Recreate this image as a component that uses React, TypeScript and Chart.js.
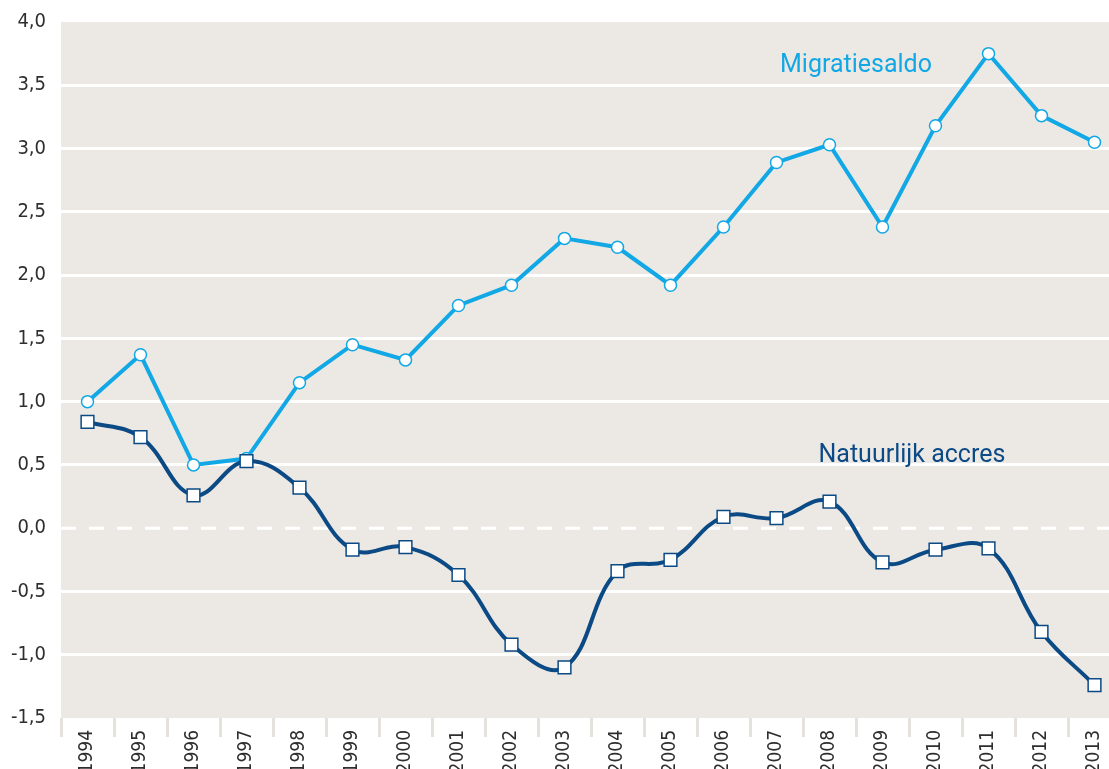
import React, { useEffect, useRef } from 'react';
import { Chart, registerables } from 'chart.js';

Chart.register(...registerables);

const years = ['1994', '1995', '1996', '1997', '1998', '1999', '2000', '2001', '2002', '2003', '2004', '2005', '2006', '2007', '2008', '2009', '2010', '2011', '2012', '2013'];
const migratiesaldo = [1.0, 1.37, 0.5, 0.55, 1.15, 1.45, 1.33, 1.76, 1.92, 2.29, 2.22, 1.92, 2.38, 2.89, 3.03, 2.38, 3.18, 3.75, 3.26, 3.05];
const natuurlijkAccres = [0.84, 0.72, 0.26, 0.53, 0.32, -0.17, -0.15, -0.37, -0.92, -1.1, -0.34, -0.25, 0.09, 0.08, 0.21, -0.27, -0.17, -0.16, -0.82, -1.24];
const yMin = -1.5;
const yMax = 4.0;
const yStep = 0.5;

const LIGHT = '#12a8e5';
const DARK = '#0b4a84';
const TICK_FONT = '"DejaVu Sans Condensed", "Liberation Sans Narrow", sans-serif';
const W = 1121;
const H = 769;

const decorPlugin = {
  id: 'decor',
  beforeDraw(chart: any) {
    const { ctx, chartArea } = chart;
    ctx.save();
    ctx.fillStyle = '#ece9e5';
    ctx.fillRect(chartArea.left, chartArea.top, chartArea.right - chartArea.left, chartArea.bottom - chartArea.top);
    ctx.restore();
  },
  beforeDatasetsDraw(chart: any) {
    const { ctx, chartArea, scales } = chart;
    const y0 = scales.y.getPixelForValue(0);
    ctx.save();
    ctx.strokeStyle = '#ffffff';
    ctx.lineWidth = 3;
    ctx.setLineDash([15, 13]);
    ctx.beginPath();
    ctx.moveTo(chartArea.left, y0);
    ctx.lineTo(chartArea.right, y0);
    ctx.stroke();
    ctx.restore();
  },
  afterDatasetsDraw(chart: any) {
    const { ctx, scales } = chart;
    const x = scales.x.getPixelForValue(13);
    ctx.save();
    ctx.font = '25px Roboto, sans-serif';
    ctx.textAlign = 'left';
    ctx.textBaseline = 'alphabetic';
    ctx.fillStyle = LIGHT;
    ctx.fillText('Migratiesaldo', x + 3.5, scales.y.getPixelForValue(3.605));
    ctx.fillStyle = DARK;
    ctx.fillText('Natuurlijk accres', x + 42, scales.y.getPixelForValue(0.522));
    ctx.restore();
  },
};

export default function App() {
  const ref = useRef<HTMLCanvasElement | null>(null);
  useEffect(() => {
    if (!ref.current) return;
    const chart = new Chart(ref.current, {
      type: 'line',
      data: {
        labels: years,
        datasets: [
          {
            label: 'Natuurlijk accres',
            data: natuurlijkAccres,
            borderColor: DARK,
            borderWidth: 4,
            tension: 0.4,
            pointStyle: 'rect',
            pointRadius: 9,
            pointBackgroundColor: '#ffffff',
            pointBorderColor: DARK,
            pointBorderWidth: 1.5,
          },
          {
            label: 'Migratiesaldo',
            data: migratiesaldo,
            borderColor: LIGHT,
            borderWidth: 4,
            tension: 0,
            pointStyle: 'circle',
            pointRadius: 6,
            pointBackgroundColor: '#ffffff',
            pointBorderColor: LIGHT,
            pointBorderWidth: 1.5,
          },
        ],
      },
      options: {
        animation: false,
        responsive: false,
        maintainAspectRatio: false,
        devicePixelRatio: 1,
        layout: { autoPadding: false, padding: { top: 22, left: 0, right: 0, bottom: 0 } },
        plugins: { legend: { display: false }, tooltip: { enabled: false }, title: { display: false } },
        scales: {
          x: {
            offset: true,
            border: { display: false },
            grid: {
              offset: true,
              drawOnChartArea: false,
              drawTicks: true,
              tickLength: 19,
              tickWidth: 3,
              tickColor: '#e5e2dd',
              color: '#e5e2dd',
            },
            ticks: {
              autoSkip: false,
              minRotation: 90,
              maxRotation: 90,
              padding: -7,
              color: '#2e2e2e',
              font: { family: TICK_FONT, size: 19 },
            },
            afterFit(scale: any) {
              scale.height = 51;
              scale.paddingLeft = 0;
              scale.paddingRight = 0;
              scale.paddingTop = 0;
              scale.paddingBottom = 0;
            },
          },
          y: {
            min: yMin,
            max: yMax,
            border: { display: false },
            grid: {
              drawTicks: false,
              lineWidth: 3,
              color: (c: any) => {
                const v = c.tick ? c.tick.value : null;
                if (v === null || Math.abs(v) < 1e-9 || Math.abs(v - yMax) < 1e-9 || Math.abs(v - yMin) < 1e-9) return 'rgba(0,0,0,0)';
                return '#ffffff';
              },
            },
            ticks: {
              stepSize: yStep,
              padding: 15,
              color: '#2e2e2e',
              font: { family: TICK_FONT, size: 20 },
              callback: (v: any) => Number(v).toFixed(1).replace('.', ','),
            },
            afterFit(scale: any) {
              scale.width = 61;
              scale.paddingLeft = 0;
              scale.paddingRight = 0;
              scale.paddingTop = 0;
              scale.paddingBottom = 0;
            },
          },
        },
      },
      plugins: [decorPlugin],
    });
    return () => chart.destroy();
  }, []);
  return (
    <div style={{ position: 'fixed', left: 0, top: 0, width: W, height: H, background: '#ffffff', overflow: 'hidden' }}>
      <canvas ref={ref} width={W} height={H} style={{ width: W, height: H, display: 'block' }} />
    </div>
  );
}
